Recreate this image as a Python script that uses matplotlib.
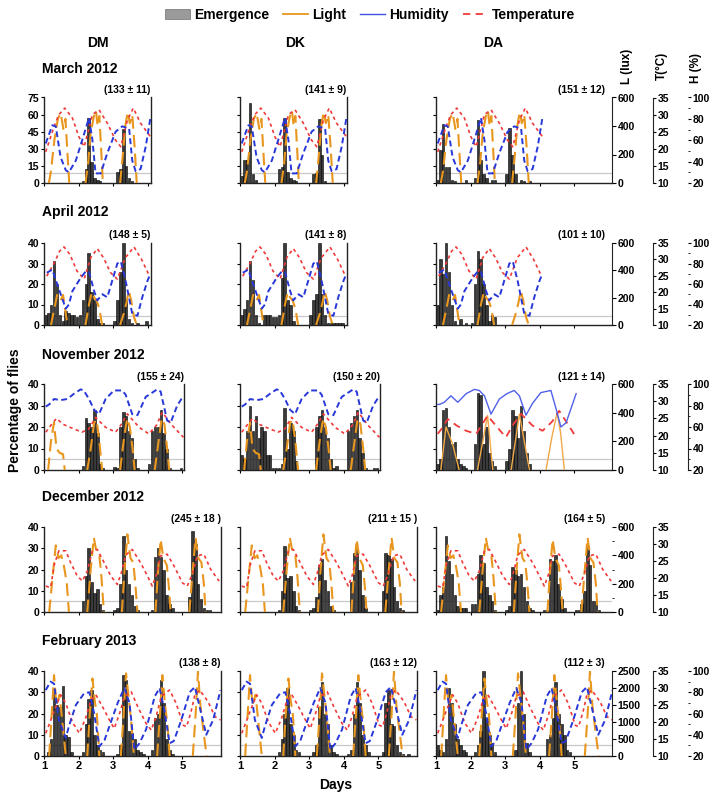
import numpy as np
import matplotlib
matplotlib.use('Agg')
import matplotlib.pyplot as plt
from matplotlib.lines import Line2D
from matplotlib.patches import Patch
from matplotlib.ticker import MultipleLocator

plt.rcParams['font.family'] = ['Liberation Sans', 'DejaVu Sans']
plt.rcParams['font.weight'] = 'bold'
nan = float('nan')

# ---------------- DATA ----------------
months = ['March 2012', 'April 2012', 'November 2012', 'December 2012', 'February 2013']
strains = ['DM', 'DK', 'DA']
counts = [['(133 ± 11)', '(141 ± 9)', '(151 ± 12)'],
          ['(148 ± 5)', '(141 ± 8)', '(101 ± 10)'],
          ['(155 ± 24)', '(150 ± 20)', '(121 ± 14)'],
          ['(245 ± 18 )', '(211 ± 15 )', '(164 ± 5)'],
          ['(138 ± 8)', '(163 ± 12)', '(112 ± 3)']]
day_ticks = [1, 2, 3, 4, 5]
pct_max = [75, 40, 40, 40, 40]
pct_step = [15, 10, 10, 10, 10]
threshold = [9, 4.5, 5, 5, 5]
lux_max = [600, 600, 600, 600, 2500]
lux_step = [200, 200, 200, 200, 500]
temp_ticks = [10, 15, 20, 25, 30, 35]
hum_ticks = [20, 40, 60, 80, 100]

# Emergence (% of flies) in 2-h bins, 12 bins per day
em_mar_dm = [0,0,0,0,0,0,0,0,0,0,0,0,  0,2,12,57,18,4,3,2,0,0,0,0,  0,10,12,47,15,4,2,0,0,0,0,0]
em_mar_dk = [6,20,20,70,8,3,0,0,0,0,0,0,  0,12,14,57,10,4,3,2,0,0,0,0,  0,8,9,56,25,2,0,0,0,0,0,0]
em_mar_da = [3,29,52,14,14,3,2,0,0,0,3,0,  0,4,55,20,8,4,0,3,3,0,0,0,  8,48,25,8,0,3,2,0,2,0,0,0]

em_apr_dm = [5,6,10,31,20,5,2,7,6,5,5,4,  5,12,20,35,16,12,3,1,1,0,0,0,  2,12,26,40,12,3,1,0,1,0,0,2]
em_apr_dk = [5,8,12,31,22,5,1,0,5,5,5,4,  4,5,23,40,12,10,2,0,0,0,0,0,  5,12,15,40,15,5,1,1,1,1,1,1]
em_apr_da = [10,32,25,40,26,10,2,0,3,0,1,0,  1,20,36,32,20,10,2,5,4,0,0,0,  0,0,0,0,0,0,0,0,0,0,0,0]

em_nov_dm = [0,0,0,0,0,0,0,0,0,0,0,0,  0,2,24,22,20,28,17,3,1,0,0,0,
             1.5,1,20,27,25,18,15,5,1,0,0,0,  3,18,20,20,28,17,10,1,0,0,0,1]
em_nov_dk = [7,5,18,30,18,25,15,20,18,7,7,1,  1,1,3,29,10,22,18,4,0,0,0,0,
             0,0,20,25,28,20,15,5,1,2,0,0,  0,18,22,25,28,15,8,1,0,0,1,1]
em_nov_da = [3,5,28,29,20,12,13,5,3,2,1,0,  0,12,36,35,12,20,8,4,2,0,0,0,
             4,10,28,25,15,30,18,8,3,0,0,0,  0,0,0,0,0,0,0,0,0,0,0,0]

em_dec_dm = [0,0,0,0,0,0,0,0,0,0,0,0,  0,5,17,30,14,9,11,4,1,0,0,0,  1,2,13,36,20,13,8,3,1,0,0,0,
             0,1,26,30,26,20,8,4,2,0,0,0,  0,0,7,38,32,13,6,2,1,1,0,0]
em_dec_dk = [0,0,0,0,0,0,0,0,0,0,0,0,  0,1,10,31,16,17,10,3,1,0,0,0,  1,2,7,22,25,15,10,3,1,0,0,0,
             0,0,14,28,30,20,8,2,0,0,0,0,  0,10,28,27,25,12,5,2,1,0,0,0]
em_dec_da = [1,8,12,36,24,18,8,3,2,2,2,0,  4,4,18,27,23,12,8,5,1,0,0,0,  1,3,21,20,17,18,12,5,2,1,0,0,
             0,1,1,25,24,27,13,6,2,0,0,0,  1,1,4,10,31,22,5,5,1,0,0,0]

em_feb_dm = [0,2,8,31,24,23,33,10,9,2,0,0,  0,2,15,27,31,10,5,3,2,0,0,0,  0,1,5,38,36,12,11,8,3,2,1,0,
             0,3,18,20,36,25,8,3,1,0,0,0,  0,0,0,0,0,0,0,0,0,0,0,0]
em_feb_dk = [0,0,0,0,0,0,0,0,0,0,0,0,  0,2,8,20,32,15,10,3,2,0,0,0,  0,2,5,23,35,20,15,5,2,1,0,0,
             0,1,3,20,35,25,10,5,2,0,0,0,  0,2,25,31,15,14,5,2,1,0,1,0]
em_feb_da = [5,3,2,8,32,25,15,8,5,3,2,0,  0,2,5,12,40,18,10,6,2,0,0,0,  0,0,0,3,25,40,20,6,2,0,0,0,
             0,0,8,10,18,35,20,15,10,3,2,0,  0,0,0,0,0,0,0,0,0,0,0,0]

# Environment: time in days, temperature (°C), humidity (%), light (lux)
temp_mar_d = [1.05,1.29,1.43,1.6,1.82,2.01,2.16,2.4,2.59,2.83,3.07,3.22,3.41,3.58,3.79,4.08]
temp_mar_v = [19.1,26.5,30,31.9,29,23.5,20.6,30,31.4,27.5,22.5,20.6,28.4,31.9,27.5,23.5]
hum_mar_d = [1.05,1.24,1.34,1.48,1.63,1.72,1.92,2.16,2.30,2.40,2.49,2.64,2.83,3.07,3.26,3.46,3.55,3.65,3.79,3.94,4.08]
hum_mar_v = [57,74,73,44,32,30,41,66,81,60,29,29,48,68,73,71,41,31,33,54,82]
light_mar_d = [1.14,1.2,1.3,1.4,1.48,1.56,1.62,1.68,1.73,1.74,
               2.2,2.28,2.35,2.45,2.5,2.55,2.6,2.66,2.7,2.71,
               3.2,3.28,3.35,3.42,3.48,3.55,3.62,3.68]
light_mar_v = [0,80,300,450,490,380,450,200,0,nan,
               0,150,350,480,510,400,470,200,0,nan,
               0,200,400,500,420,480,250,0]

temp_apr_d = [1.08,1.3,1.45,1.58,1.75,1.95,2.16,2.35,2.54,2.72,2.92,3.12,3.35,3.6,3.82,4.05]
temp_apr_v = [24.9,29,32.5,33.8,31.5,26.5,24,30.5,33.3,30.5,26,24,30.5,33.8,30,24.9]
hum_apr_d = [1.08,1.24,1.4,1.63,1.72,1.82,2.06,2.2,2.3,2.45,2.54,2.69,2.83,2.97,3.12,3.22,3.36,3.55,3.7,3.84,3.99,4.05]
hum_apr_v = [71,74,58,36,40,53,66,72,72,53,44,50,47,63,80,82,63,31,29,47,63,68]
light_apr_d = [1.2,1.3,1.38,1.48,1.55,1.62,1.68,1.69,
               2.2,2.3,2.38,2.45,2.52,2.6,2.68,2.69,
               3.2,3.3,3.38,3.45,3.52,3.6,3.68]
light_apr_v = [0,120,220,180,220,100,0,nan,
               0,150,240,200,180,120,0,nan,
               0,80,160,250,180,60,0]

temp_nov_d = [1.05,1.2,1.36,1.55,1.8,2.1,2.3,2.49,2.78,3.07,3.25,3.41,3.75,4.03,4.25,4.42,4.7,5.03]
temp_nov_v = [21,23,25,23.3,22.2,21,22,25.3,22.4,21,23.5,26.3,22.4,20.5,23,26.8,23,19.5]
hum_nov_d = [1.05,1.15,1.29,1.48,1.67,1.87,2.06,2.15,2.3,2.45,2.59,2.78,3.02,3.26,3.36,3.55,3.7,3.94,4.27,4.37,4.56,4.66,4.85,5.03]
hum_nov_v = [79,81,86,85,86,91,95,94,86,76,72,86,94,94,90,72,71,88,95,93,66,64,80,89]
light_nov_d = [1.12,1.2,1.29,1.36,1.45,1.55,1.6,1.61,
               2.25,2.35,2.45,2.52,2.6,2.68,2.69,
               3.2,3.3,3.4,3.48,3.56,3.62,3.63,
               4.2,4.3,4.4,4.48,4.56,4.62]
light_nov_v = [0,200,330,150,120,110,0,nan,
               0,150,330,350,200,0,nan,
               0,200,360,300,150,0,nan,
               0,180,360,320,150,0]

temp_nov_da_d = [1.05,1.2,1.34,1.6,1.87,2.16,2.35,2.49,2.73,3.02,3.25,3.46,3.79,4.08,4.35,4.56,4.8,5.05]
temp_nov_da_v = [20.5,22.5,24.8,22.9,21.4,20.5,23.5,25.8,22.9,19.5,23.5,26.3,22.9,21.4,24,27.2,23.5,19.5]
hum_nov_da_d = [1.05,1.1,1.24,1.43,1.63,1.87,2.11,2.25,2.4,2.59,2.83,3.05,3.26,3.41,3.6,3.79,4.03,4.32,4.47,4.61,4.76,5.05]
hum_nov_da_v = [81,81,83,89,83,91,95,94,89,72,86,91,94,89,71,82,92,94,77,60,64,91]
light_nov_da_d = [1.14,1.29,1.48,1.67,1.68, 2.2,2.49,2.64,2.65, 3.17,3.41,3.7,3.71, 4.18,4.35,4.5,4.6,4.71]
light_nov_da_v = [0,300,180,0,nan, 0,380,0,nan, 0,390,0,nan, 0,230,400,260,0]

temp_dec_d = [1.05,1.19,1.3,1.43,1.63,1.77,1.96,2.11,2.25,2.4,2.54,2.69,2.93,3.12,3.25,3.36,3.55,3.79,3.99,
              4.13,4.25,4.37,4.56,4.76,5.0,5.14,5.28,5.43,5.62,5.82,6.06]
temp_dec_v = [17.6,17.2,24,28,28,24.5,20.6,19.1,22,28,28.4,25.5,20.6,18.1,22,26.7,28.4,24.5,20.6,
              17.6,21,26.5,27,23.5,18.6,17.6,21,26.5,27,22.5,19.1]
hum_dec_d = []
hum_dec_v = []
light_dec_d = [1.15,1.25,1.34,1.42,1.5,1.58,1.66,1.72,1.73,
               2.25,2.35,2.44,2.52,2.6,2.66,2.73,2.74,
               3.25,3.33,3.41,3.5,3.58,3.64,3.7,3.71,
               4.22,4.3,4.37,4.45,4.55,4.6,4.66,4.67,
               5.2,5.3,5.38,5.46,5.55,5.62,5.67]
light_dec_v = [0,250,470,380,400,320,200,0,nan,
               0,300,525,420,400,250,0,nan,
               0,300,548,380,350,200,0,nan,
               0,300,513,380,330,200,0,nan,
               0,300,525,380,350,200,0]

temp_feb_d = [1.05,1.25,1.48,1.63,1.82,2.02,2.2,2.36,2.5,2.69,2.89,3.03,3.2,3.32,3.52,3.71,3.95,4.1,4.25,
              4.39,4.63,4.82,5.02,5.12,5.25,5.36,5.5,5.74,5.94,6.1]
temp_feb_v = [16.7,22,28,25.5,20,16.7,21,26.5,28,24.5,20.6,18.1,23,27.5,28.9,24.5,19.6,17.6,22,
              27.5,29.4,25.5,19.1,18.6,23,28,29.4,26,21.6,20.6]
hum_feb_d = [1.05,1.19,1.29,1.43,1.63,1.72,1.92,2.16,2.31,2.45,2.6,2.75,2.89,3.13,3.32,3.47,3.61,3.76,3.95,
             4.2,4.34,4.48,4.63,4.75,4.97,5.21,5.36,5.5,5.69,5.89,6.1]
hum_feb_v = [82,90,88,54,37,48,68,79,80,60,29,35,48,70,84,70,26,32,45,
             76,84,63,32,34,54,80,85,66,40,54,82]
light_feb_d = [1.15,1.22,1.29,1.36,1.45,1.55,1.63,1.64,
               2.25,2.32,2.4,2.47,2.53,2.6,2.61,
               3.22,3.3,3.37,3.45,3.52,3.6,3.61,
               4.27,4.35,4.42,4.5,4.57,4.63,4.64,
               5.3,5.38,5.45,5.52,5.6,5.7]
light_feb_v = [0,1200,2380,1500,1800,800,0,nan,
               0,1200,2280,1600,1200,0,nan,
               0,1200,2430,1700,1000,0,nan,
               0,1200,2380,1500,900,0,nan,
               0,1200,2480,1500,800,0]

# ---------------- LAYOUT ----------------
W, H = 720, 800
fig = plt.figure(figsize=(W / 100, H / 100), dpi=100)

def px_axes(left, top, width, height):
    return fig.add_axes([left / W, 1 - (top + height) / H, width / W, height / H])

row_top = [97.5, 243, 384, 527, 671]
row_bot = [183, 325, 470, 612, 756]
col_left = [44, 240, 436]
PXD = 34.6
span_dmdk = [3.08, 3.08, 4.05, 5.11, 5.11]
span_da = 176 / PXD
title_y = [69, 212, 355, 497, 641]

emergence = [[em_mar_dm, em_mar_dk, em_mar_da],
             [em_apr_dm, em_apr_dk, em_apr_da],
             [em_nov_dm, em_nov_dk, em_nov_da],
             [em_dec_dm, em_dec_dk, em_dec_da],
             [em_feb_dm, em_feb_dk, em_feb_da]]
env_std = [(temp_mar_d, temp_mar_v, hum_mar_d, hum_mar_v, light_mar_d, light_mar_v),
           (temp_apr_d, temp_apr_v, hum_apr_d, hum_apr_v, light_apr_d, light_apr_v),
           (temp_nov_d, temp_nov_v, hum_nov_d, hum_nov_v, light_nov_d, light_nov_v),
           (temp_dec_d, temp_dec_v, hum_dec_d, hum_dec_v, light_dec_d, light_dec_v),
           (temp_feb_d, temp_feb_v, hum_feb_d, hum_feb_v, light_feb_d, light_feb_v)]
env_nov_da = (temp_nov_da_d, temp_nov_da_v, hum_nov_da_d, hum_nov_da_v, light_nov_da_d, light_nov_da_v)

C_LIGHT = '#E8961E'
C_HUM = '#2838D8'
C_TEMP = '#F03A3A'
C_BAR = '#3a3a3a'
SPC = '#222222'

for r in range(5):
    for c in range(3):
        span = span_da if c == 2 else span_dmdk[r]
        ax = px_axes(col_left[c], row_top[r], span * PXD, row_bot[r] - row_top[r])
        vals = emergence[r][c]
        xs = [1 + (i + 0.5) / 12 for i in range(len(vals))]
        ax.bar(xs, vals, width=0.07, color=C_BAR, edgecolor='black', linewidth=0.4, zorder=2)
        ax.axhline(threshold[r], color='#c8c8c8', lw=0.9, zorder=1)
        ax.set_xlim(1, 1 + span)
        ax.set_ylim(0, pct_max[r])
        ax.set_yticks(np.arange(0, pct_max[r] + 1, pct_step[r]))
        ax.set_xticks(day_ticks)
        ax.spines['top'].set_visible(False)
        for s in ['left', 'bottom', 'right']:
            ax.spines[s].set_color(SPC)
            ax.spines[s].set_linewidth(1.0)
        if c == 2:
            ax.spines['right'].set_visible(False)
        ax.tick_params(axis='y', labelsize=7.5, length=2.5, width=0.8, pad=1,
                       labelleft=(c == 0))
        ax.tick_params(axis='x', labelsize=8, length=2, width=0.8, pad=1.5,
                       labelbottom=(r == 4))

        if r == 2 and c == 2:
            env = env_nov_da
        else:
            env = env_std[r]
        td, tv, hd, hv, ld, lv = env

        axL = ax.twinx(); axT = ax.twinx(); axH = ax.twinx()
        for a in (axL, axT, axH):
            a.set_xlim(1, 1 + span)
            for s in ['top', 'left', 'bottom']:
                a.spines[s].set_visible(False)
        axL.set_ylim(0, lux_max[r])
        axT.set_ylim(10, 35)
        axH.set_ylim(20, 100)

        nov_da = (r == 2 and c == 2)
        if nov_da:
            axL.plot(ld, lv, color='#F0A848', lw=1.0, zorder=3)
            axH.plot(hd, hv, color='#5060E8', lw=1.0, zorder=3)
            axT.plot(td, tv, color=C_TEMP, lw=1.3, dashes=(4, 3), zorder=3)
        else:
            axL.plot(ld, lv, color=C_LIGHT, lw=1.5, dashes=(6, 3), zorder=3)
            if len(hd):
                axH.plot(hd, hv, color=C_HUM, lw=1.4, dashes=(3, 1.8), zorder=3)
            axT.plot(td, tv, color=C_TEMP, lw=1.2, dashes=(2, 2), zorder=3)

        if c < 2:
            for a in (axL, axT, axH):
                a.spines['right'].set_visible(False)
                a.set_yticks([])
        else:
            axL.set_yticks(np.arange(0, lux_max[r] + 1, lux_step[r]))
            axL.spines['right'].set_color(SPC)
            axL.tick_params(axis='y', labelsize=7.5, length=3, width=0.8, pad=1)
            axT.spines['right'].set_position(('axes', (653 - 436) / 176))
            axT.spines['right'].set_color(SPC)
            axT.set_yticks(temp_ticks)
            axT.tick_params(axis='y', labelsize=7.5, length=2.5, width=0.8, pad=1)
            if r == 3:
                axL.spines['right'].set_visible(False)
                axL.yaxis.set_minor_locator(MultipleLocator(lux_step[r] / 2))
                axL.tick_params(axis='y', which='minor', length=1.5, width=0.6)
                axH.set_yticks([])
                axH.spines['right'].set_visible(False)
            else:
                axH.spines['right'].set_position(('axes', (688 - 436) / 176))
                axH.set_yticks(hum_ticks)
                axH.yaxis.set_minor_locator(MultipleLocator(10))
                axH.tick_params(axis='y', labelsize=7.5, length=2.5, width=0.8, pad=1)
                axH.tick_params(axis='y', which='minor', length=1.5, width=0.6)
                if r == 2:
                    axH.spines['right'].set_color(SPC)
                else:
                    axH.spines['right'].set_visible(False)

        # count label
        right_px = col_left[c] + span * PXD
        if c == 2:
            right_px = 605
        fig.text(right_px / W, 1 - (row_top[r] - 7.5) / H, counts[r][c],
                 ha='right', va='center', fontsize=7.5, fontweight='bold')

    fig.text(42 / W, 1 - title_y[r] / H, months[r], ha='left', va='center',
             fontsize=10, fontweight='bold')

# column headers
for x, s in zip([98, 295, 493], strains):
    fig.text(x / W, 1 - 43 / H, s, ha='center', va='center', fontsize=10, fontweight='bold')

# right axis titles
fig.text(627 / W, 1 - 66 / H, 'L (lux)', rotation=90, ha='center', va='center', fontsize=8.5, fontweight='bold')
fig.text(662 / W, 1 - 66 / H, 'T(°C)', rotation=90, ha='center', va='center', fontsize=8.5, fontweight='bold')
fig.text(696 / W, 1 - 68 / H, 'H (%)', rotation=90, ha='center', va='center', fontsize=8.5, fontweight='bold')

fig.text(15 / W, 1 - 410 / H, 'Percentage of flies', rotation=90, ha='center', va='center',
         fontsize=10, fontweight='bold')
fig.text(336 / W, 1 - 785 / H, 'Days', ha='center', va='center', fontsize=10, fontweight='bold')

handles = [Patch(facecolor='#9a9a9a', edgecolor='#707070', linewidth=0.5),
           Line2D([], [], color=C_LIGHT, lw=1.3),
           Line2D([], [], color='#4050E0', lw=1.0),
           Line2D([], [], color=C_TEMP, lw=1.3, dashes=(4, 3))]
fig.legend(handles, ['Emergence', 'Light', 'Humidity', 'Temperature'],
           loc='center', bbox_to_anchor=(370 / W, 1 - 15 / H), ncol=4, frameon=False,
           fontsize=10, handlelength=1.8, handletextpad=0.3, columnspacing=1.0,
           prop={'weight': 'bold', 'size': 10})

fig.savefig('out.png', dpi=100)
